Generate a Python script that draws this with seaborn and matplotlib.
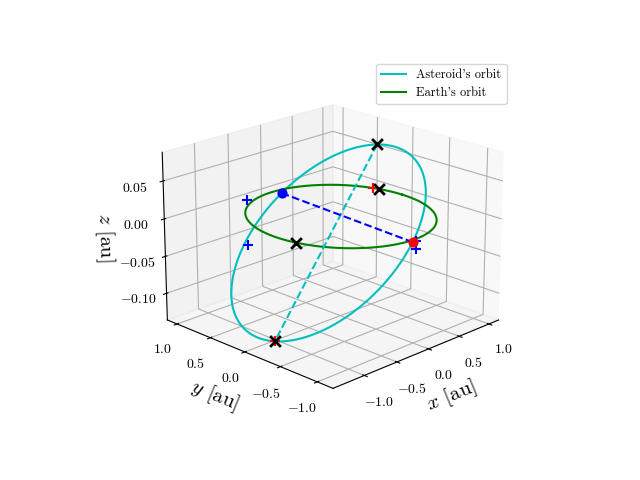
import numpy as np
import matplotlib
matplotlib.use("Agg")
import matplotlib.pyplot as plt
import seaborn as sns

plt.rcParams.update({"mathtext.fontset": "cm", "font.family": "serif",
                     "font.serif": ["cmr10", "DejaVu Serif"],
                     "axes.formatter.use_mathtext": True})

# asteroid orbital elements
a_ast = 1.04
e_ast = 0.26
inc_deg = 5.4
node_deg = 266.0   # longitude of ascending node
peri_deg = 105.0   # argument of perihelion
r_earth = 1.0
# Earth positions (deg along Earth's orbit)
earth_x_angles = [195.0, 17.0]
earth_red_plus_angles = [21.0]
# extra blue + markers (x, y, z)
blue_plus_x = [-0.57, -0.90, 0.03, 0.03]
blue_plus_y = [0.82, 0.48, -1.0, -1.0]
blue_plus_z = [0.01, -0.03, -0.003, -0.013]

def orbit_xyz(nu):
    r = a_ast * (1 - e_ast**2) / (1 + e_ast * np.cos(nu))
    u = nu + np.radians(peri_deg)
    O = np.radians(node_deg); i = np.radians(inc_deg)
    x = r * (np.cos(O) * np.cos(u) - np.sin(O) * np.sin(u) * np.cos(i))
    y = r * (np.sin(O) * np.cos(u) + np.cos(O) * np.sin(u) * np.cos(i))
    z = r * np.sin(u) * np.sin(i)
    return x, y, z

nu = np.linspace(0, 2 * np.pi, 400)
ax_, ay_, az_ = orbit_xyz(nu)
th = np.linspace(0, 2 * np.pi, 400)
ex, ey, ez = r_earth * np.cos(th), r_earth * np.sin(th), 0 * th

fig = plt.figure(figsize=(6.4, 4.8), dpi=100)
ax = fig.add_subplot(projection="3d")
ax.plot(ax_, ay_, az_, color="c", label="Asteroid's orbit")
ax.plot(ex, ey, ez, color="g", label="Earth's orbit")

# apsides
px, py, pz = orbit_xyz(np.array([0.0, np.pi]))
ax.plot(px, py, pz, "c--")
ax.scatter(px[1:], py[1:], pz[1:], marker="+", color="r", s=50, depthshade=False)
ax.scatter(px, py, pz, marker="x", color="k", s=60, linewidths=2, depthshade=False)
# nodes: red = ascending, blue = descending
nx, ny, nz = orbit_xyz(np.array([np.pi - np.radians(peri_deg), -np.radians(peri_deg)]))
ax.plot(nx, ny, nz, "b--")
ax.scatter(nx[:1], ny[:1], nz[:1], color="b", s=40, depthshade=False)
ax.scatter(nx[1:], ny[1:], nz[1:], color="r", s=40, depthshade=False)
# earth markers
er = np.radians(earth_red_plus_angles)
ax.scatter(np.cos(er), np.sin(er), 0 * er, marker="+", color="r", s=60, linewidths=1.5, depthshade=False)
ea = np.radians(earth_x_angles)
ax.scatter(np.cos(ea), np.sin(ea), 0 * ea, marker="x", color="k", s=60, linewidths=2, depthshade=False)
ax.scatter(blue_plus_x, blue_plus_y, blue_plus_z, marker="+", color="b", s=60, linewidths=1.5, depthshade=False)

ax.view_init(elev=20, azim=-135)
ax.set_xticks([-1.0, -0.5, 0.0, 0.5, 1.0])
ax.set_yticks([-1.0, -0.5, 0.0, 0.5, 1.0])
ax.set_zticks([-0.10, -0.05, 0.0, 0.05])
ax.set_xticklabels([r"$-1.0$", r"$-0.5$", r"$0.0$", r"$0.5$", r"$1.0$"])
ax.set_yticklabels([r"$-1.0$", r"$-0.5$", r"$0.0$", r"$0.5$", r"$1.0$"])
ax.set_zticklabels([r"$-0.10$", r"$-0.05$", r"$0.00$", r"$0.05$"])
ax.set_xlabel(r"$x$ [au]", fontsize=15)
ax.set_ylabel(r"$y$ [au]", fontsize=15)
ax.set_zlabel(r"$z$ [au]", fontsize=15)
ax.legend(loc="upper right", fontsize=9)
fig.savefig("out.png", dpi=100)
